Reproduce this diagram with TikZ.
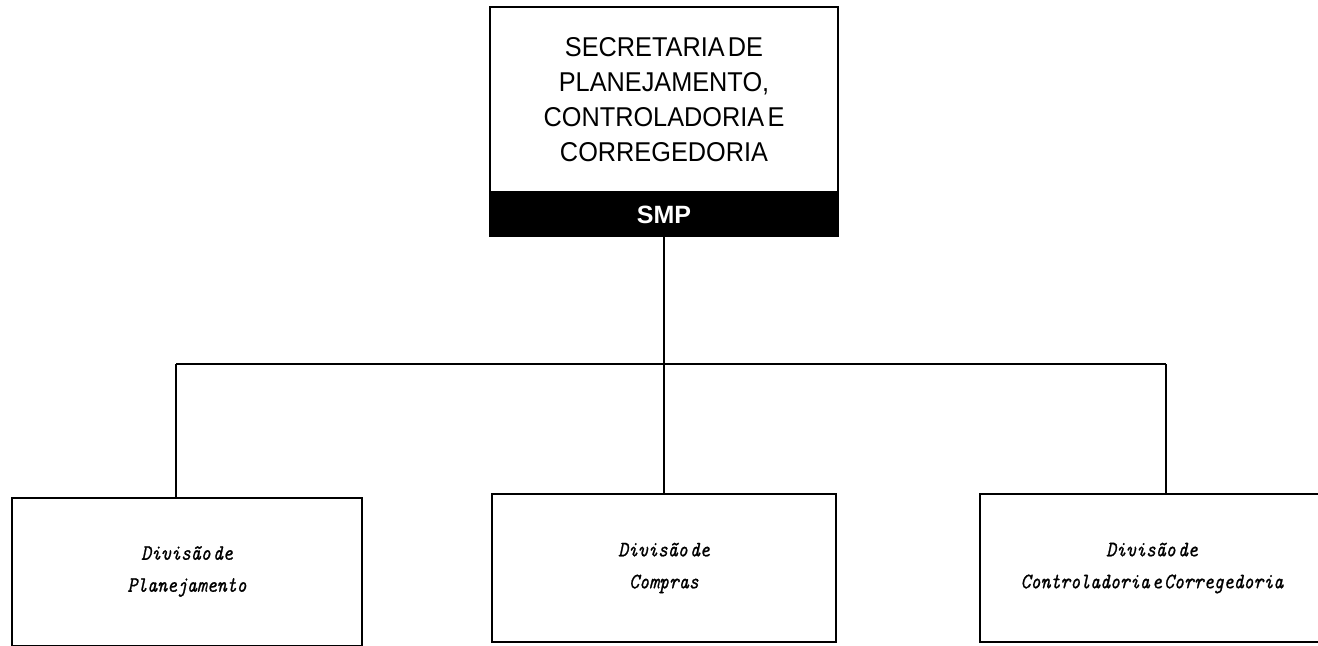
\documentclass[tikz,border=0pt]{standalone}
\usepackage{fontspec}
\newfontfamily\topfont{Liberation Sans}[FakeStretch=0.93]
\newfontfamily\smpfont{Liberation Sans}
\newfontfamily\divfont{lmmono10-regular}[Extension=.otf,ItalicFont=lmmono10-italic,FakeStretch=0.86,ItalicFeatures={FakeBold=0.9}]
\newcommand\tfsel{\topfont\fontsize{13.6}{17.5}\selectfont\spaceskip 0.12em\relax}
\newcommand\dfsel{\divfont\itshape\fontsize{11}{16}\selectfont\spaceskip 0.1em\relax}
\newcommand\sfsel{\smpfont\bfseries\fontsize{12.5}{14}\selectfont}
\begin{document}
\begin{tikzpicture}[x=0.5pt,y=-0.5pt,
  line/.style={line width=1pt,black},
  topbox/.style={draw,line width=1.2pt,minimum width=174pt,minimum height=92.5pt,inner sep=0pt,align=center,font=\tfsel},
  smpbox/.style={draw,fill=black,line width=1.2pt,minimum width=174pt,minimum height=20.5pt,inner sep=0pt,
     text=white,font=\sfsel},
  divbox/.style={draw,line width=1pt,minimum width=172pt,minimum height=74pt,inner sep=0pt,align=center,font=\dfsel}]
\useasboundingbox (0,0) rectangle (1318,645);
\fill[white] (0,0) rectangle (1318,645);

\node[topbox] (sec) at (664,99.5) {SECRETARIA DE\\PLANEJAMENTO,\\CONTROLADORIA E\\CORREGEDORIA};
\node[smpbox,anchor=north] (smp) at (sec.south) {SMP};

\node[divbox,minimum width=175pt] (dp) at (187,571.5) {Divisão de\\Planejamento};
\node[divbox] (dc) at (664,568) {Divisão de\\Compras};
\node[divbox,minimum width=172.5pt] (dcc) at (1152,568) {Divisão de\\Controladoria e Corregedoria};

\coordinate (jl) at (176,364);
\coordinate (jr) at (1166,364);
\coordinate (jm) at (smp.south |- jl);

\draw[line] (smp.south) -- (jm);
\draw[line] (jl) -- (jr);
\draw[line] (jl) -- (dp.north -| jl);
\draw[line] (jm) -- (dc.north);
\draw[line] (jr) -- (dcc.north -| jr);
\end{tikzpicture}
\end{document}
